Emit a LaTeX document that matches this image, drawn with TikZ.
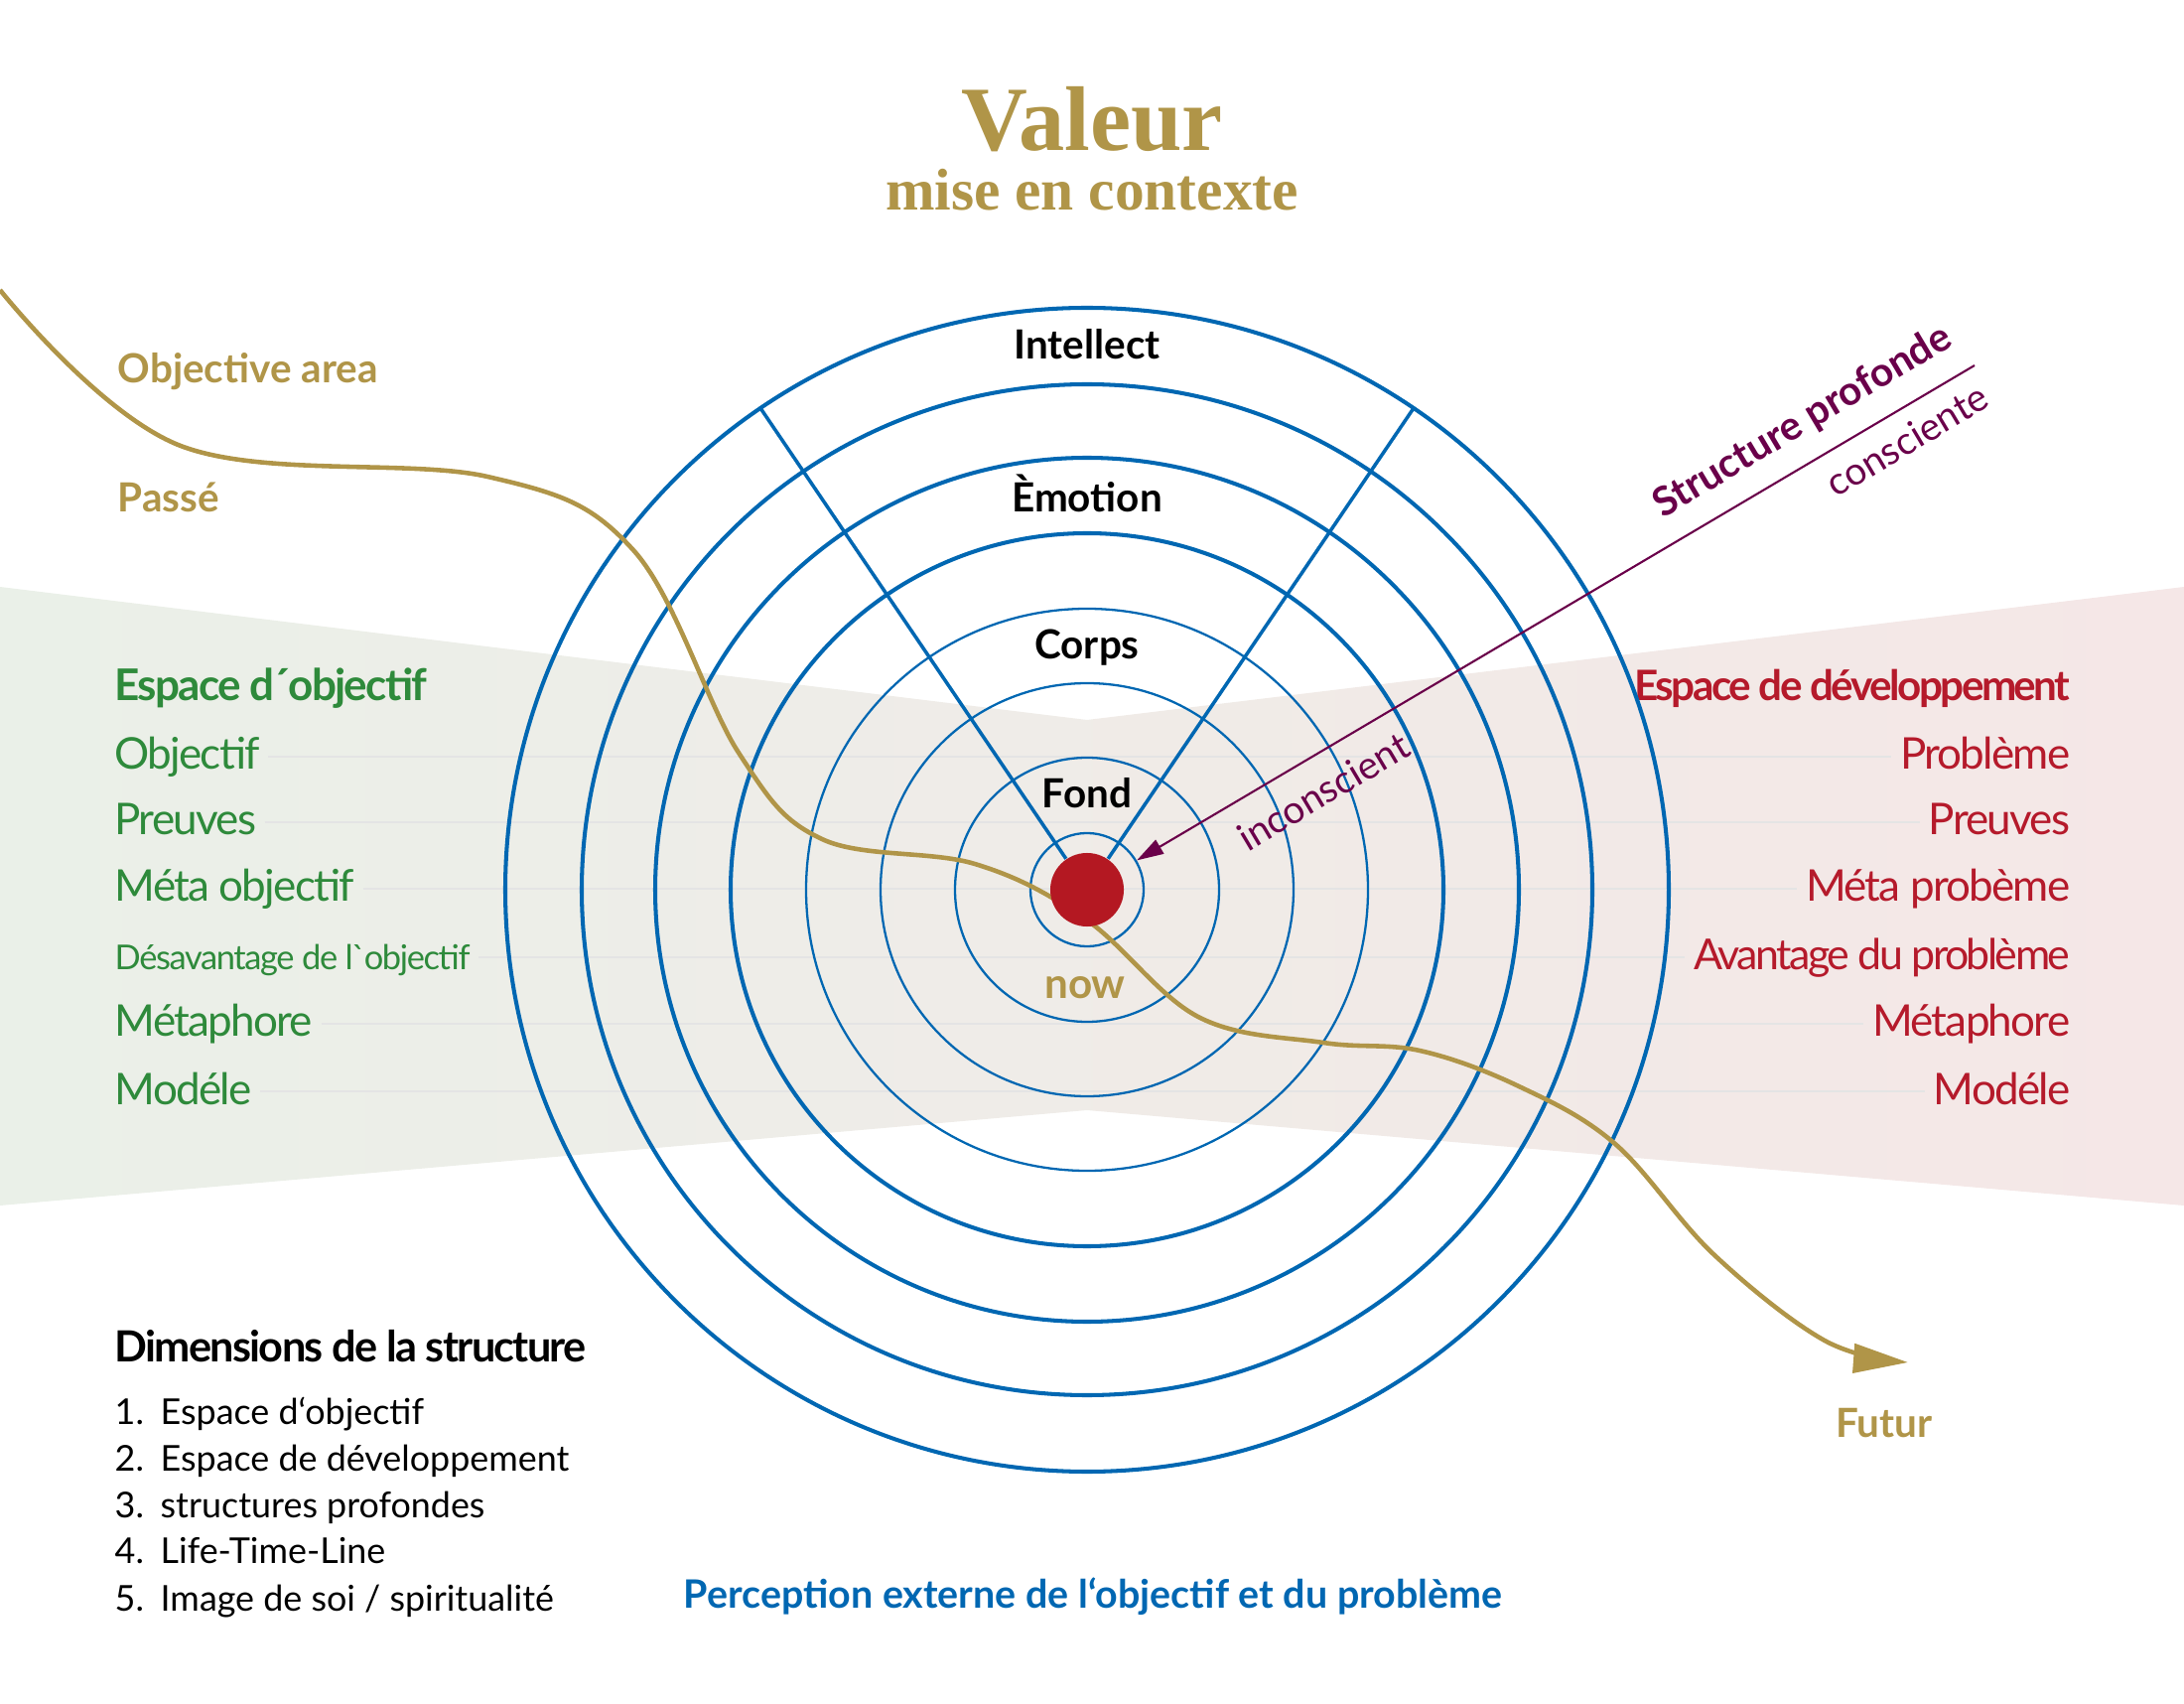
\documentclass[tikz,border=0pt]{standalone}
\usepackage{fontspec}
\setmainfont{Lato}[Ligatures=TeXOff]
\newfontfamily\latotight{Lato}[Ligatures=TeXOff, LetterSpace=-4]
\newfontfamily\latotighter{Lato}[Ligatures=TeXOff, LetterSpace=-6]
\newfontfamily\titlefont{Liberation Serif}
\usetikzlibrary{arrows.meta}

\definecolor{ringblue}{HTML}{0067B2}
\definecolor{gold}{HTML}{B09548}
\definecolor{goalgreen}{HTML}{2E8A3B}
\definecolor{devred}{HTML}{B51A2B}
\definecolor{dotred}{HTML}{B41822}
\definecolor{deeppurple}{HTML}{6A004A}
\definecolor{rowgrey}{HTML}{E4E4E4}
\definecolor{bandgreen}{HTML}{EAF0E8}
\definecolor{bandmid}{HTML}{F0EEEA}
\definecolor{bandpink}{HTML}{F5E7E7}

\newcommand{\fs}[1]{\fontsize{#1}{1.2\dimexpr#1pt\relax}\selectfont}

\begin{document}
\begin{tikzpicture}[x=0.01cm, y=-0.01cm]

	% Define custom styles
	\tikzstyle{ring} = [draw=ringblue, line width=1.15pt]
	\tikzstyle{thinring} = [draw=ringblue, line width=0.65pt]
	\tikzstyle{spoke} = [draw=ringblue, line width=1pt]
	\tikzstyle{layer} = [anchor=base, inner sep=0pt, font=\fs{11.5}\bfseries]
	\tikzstyle{goalitem} = [anchor=base west, inner sep=0pt, text=goalgreen, font=\latotight\fs{12.5}]
	\tikzstyle{devitem} = [anchor=base east, inner sep=0pt, text=devred, font=\latotight\fs{12.5}]
	\tikzstyle{rowline} = [draw=rowgrey, line width=0.6pt, shorten <=0.08cm, shorten >=0.08cm]
	\tikzstyle{timetext} = [anchor=base west, inner sep=0pt, text=gold, font=\fs{11.5}\bfseries]
	\tikzstyle{listitem} = [anchor=base west, inner sep=0pt, font=\fs{10.2}]
	\tikzstyle{deeptext} = [inner sep=0pt, text=deeppurple, rotate=30.8]

	\useasboundingbox (0,0) rectangle (2200,1716);
	\coordinate (centre) at (1095,896);

	% Background band (goal space left, development space right)
	\shade[left color=bandgreen, middle color=bandmid, right color=bandpink]
		(0,591) -- (1095,725) -- (2200,591) -- (2200,1214) -- (1095,1118) -- (0,1214) -- cycle;

	% Title
	\node[anchor=base, text=gold, font=\titlefont\fs{26.3}\bfseries] (title) at (1100,152) {Valeur};
	\node[anchor=base, text=gold, font=\titlefont\fs{16.9}\bfseries] (subtitle) at (1100,212) {mise en contexte};

	% Rows of both spaces
	\node[goalitem, font=\latotight\fs{12.5}\bfseries] (goalhead) at (115,706) {Espace d´objectif};
	\node[devitem, font=\latotighter\fs{12}\bfseries] (devhead) at (2086,706) {Espace de développement};
	\foreach \i/\y/\goal/\dev in {1/762/Objectif/Problème, 2/828/Preuves/Preuves,
		3/895/Méta objectif/Méta probème,
		4/964/{\fs{9.8}Désavantage de l`objectif}/{\latotighter\fs{12.2}Avantage du problème},
		5/1031/Métaphore/Métaphore, 6/1099/Modéle/Modéle}
	{
		\node[goalitem] (goal\i) at (115,\y+13) {\goal};
		\node[devitem] (dev\i) at (2086,\y+13) {\dev};
		\coordinate (row\i) at (0,\y);
		\draw[rowline] (goal\i.east |- row\i) -- (dev\i.west |- row\i);
	}

	% Concentric rings
	\foreach \r in {586,509,435,359}
		\draw[ring] (centre) circle[radius=\r];
	\foreach \r in {283,208,133}
		\draw[thinring] (centre) circle[radius=\r];
	\node[circle, thinring, minimum size=1.14cm, inner sep=0pt] (core) at (centre) {};

	% Life-time-line
	\coordinate (past) at (0,292);
	\coordinate (future) at (1922,1372);
	\draw[gold, line width=1.3pt, -{Triangle[length=0.55cm, width=0.29cm]}]
		plot[smooth, tension=0.6] coordinates {(past) (182,449) (491,480) (638,554) (744,758)
		(828,845) (982,870) (1094,926) (1207,1024) (1333,1050) (1430,1058) (1530,1094)
		(1627,1152) (1726,1263) (1838,1350) (future)};

	% Now
	\node[circle, fill=dotred, minimum size=0.74cm, inner sep=0pt] (dot) at (centre) {};
	\path (centre) ++(-124.15:586) coordinate (spokeL);
	\path (centre) ++(-55.85:586) coordinate (spokeR);
	\draw[spoke] (dot) -- (spokeL);
	\draw[spoke] (dot) -- (spokeR);

	% Layer labels
	\node[layer] (intellect) at (1095,362) {Intellect};
	\node[layer] (emotion) at (1095,516) {Èmotion};
	\node[layer] (corps) at (1095,664) {Corps};
	\node[layer] (fond) at (1095,814) {Fond};
	\node[layer, text=gold, font=\fs{12}\bfseries] (now) at (1093,1005) {now};

	% Deep structure
	\coordinate (deepstart) at (1989,368);
	\draw[deeppurple, line width=0.6pt, -{Triangle[length=0.27cm, width=0.16cm]}] (deepstart) -- (core);
	\node[deeptext, font=\fs{11.5}\bfseries] (deep) at (1816,425) {Structure profonde};
	\node[deeptext, font=\fs{11}] (conscious) at (1921,443) {consciente};
	\node[deeptext, font=\fs{11}] (unconscious) at (1333,797) {inconscient};

	% Time labels
	\node[timetext] (objarea) at (118,386) {Objective area};
	\node[timetext] (passe) at (118,516) {Passé};
	\node[timetext, anchor=base] (futur) at (1898,1447) {Futur};

	% Dimensions
	\node[listitem, font=\latotight\fs{12.3}\bfseries] (dimhead) at (115,1371) {Dimensions de la structure};
	\foreach \n/\y/\txt in {1/1434/Espace d‘objectif, 2/1481/Espace de développement,
		3/1528/structures profondes, 4/1574/Life-Time-Line, 5/1622/{Image de soi / spiritualité}}
	{
		\node[listitem] (num\n) at (115,\y) {\n.};
		\node[listitem] (dim\n) at (161,\y) {\txt};
	}

	% External perception
	\node[anchor=base, inner sep=0pt, text=ringblue, font=\fs{11.2}\bfseries] (perception) at (1101,1619)
		{Perception externe de l‘objectif et du problème};

\end{tikzpicture}
\end{document}
